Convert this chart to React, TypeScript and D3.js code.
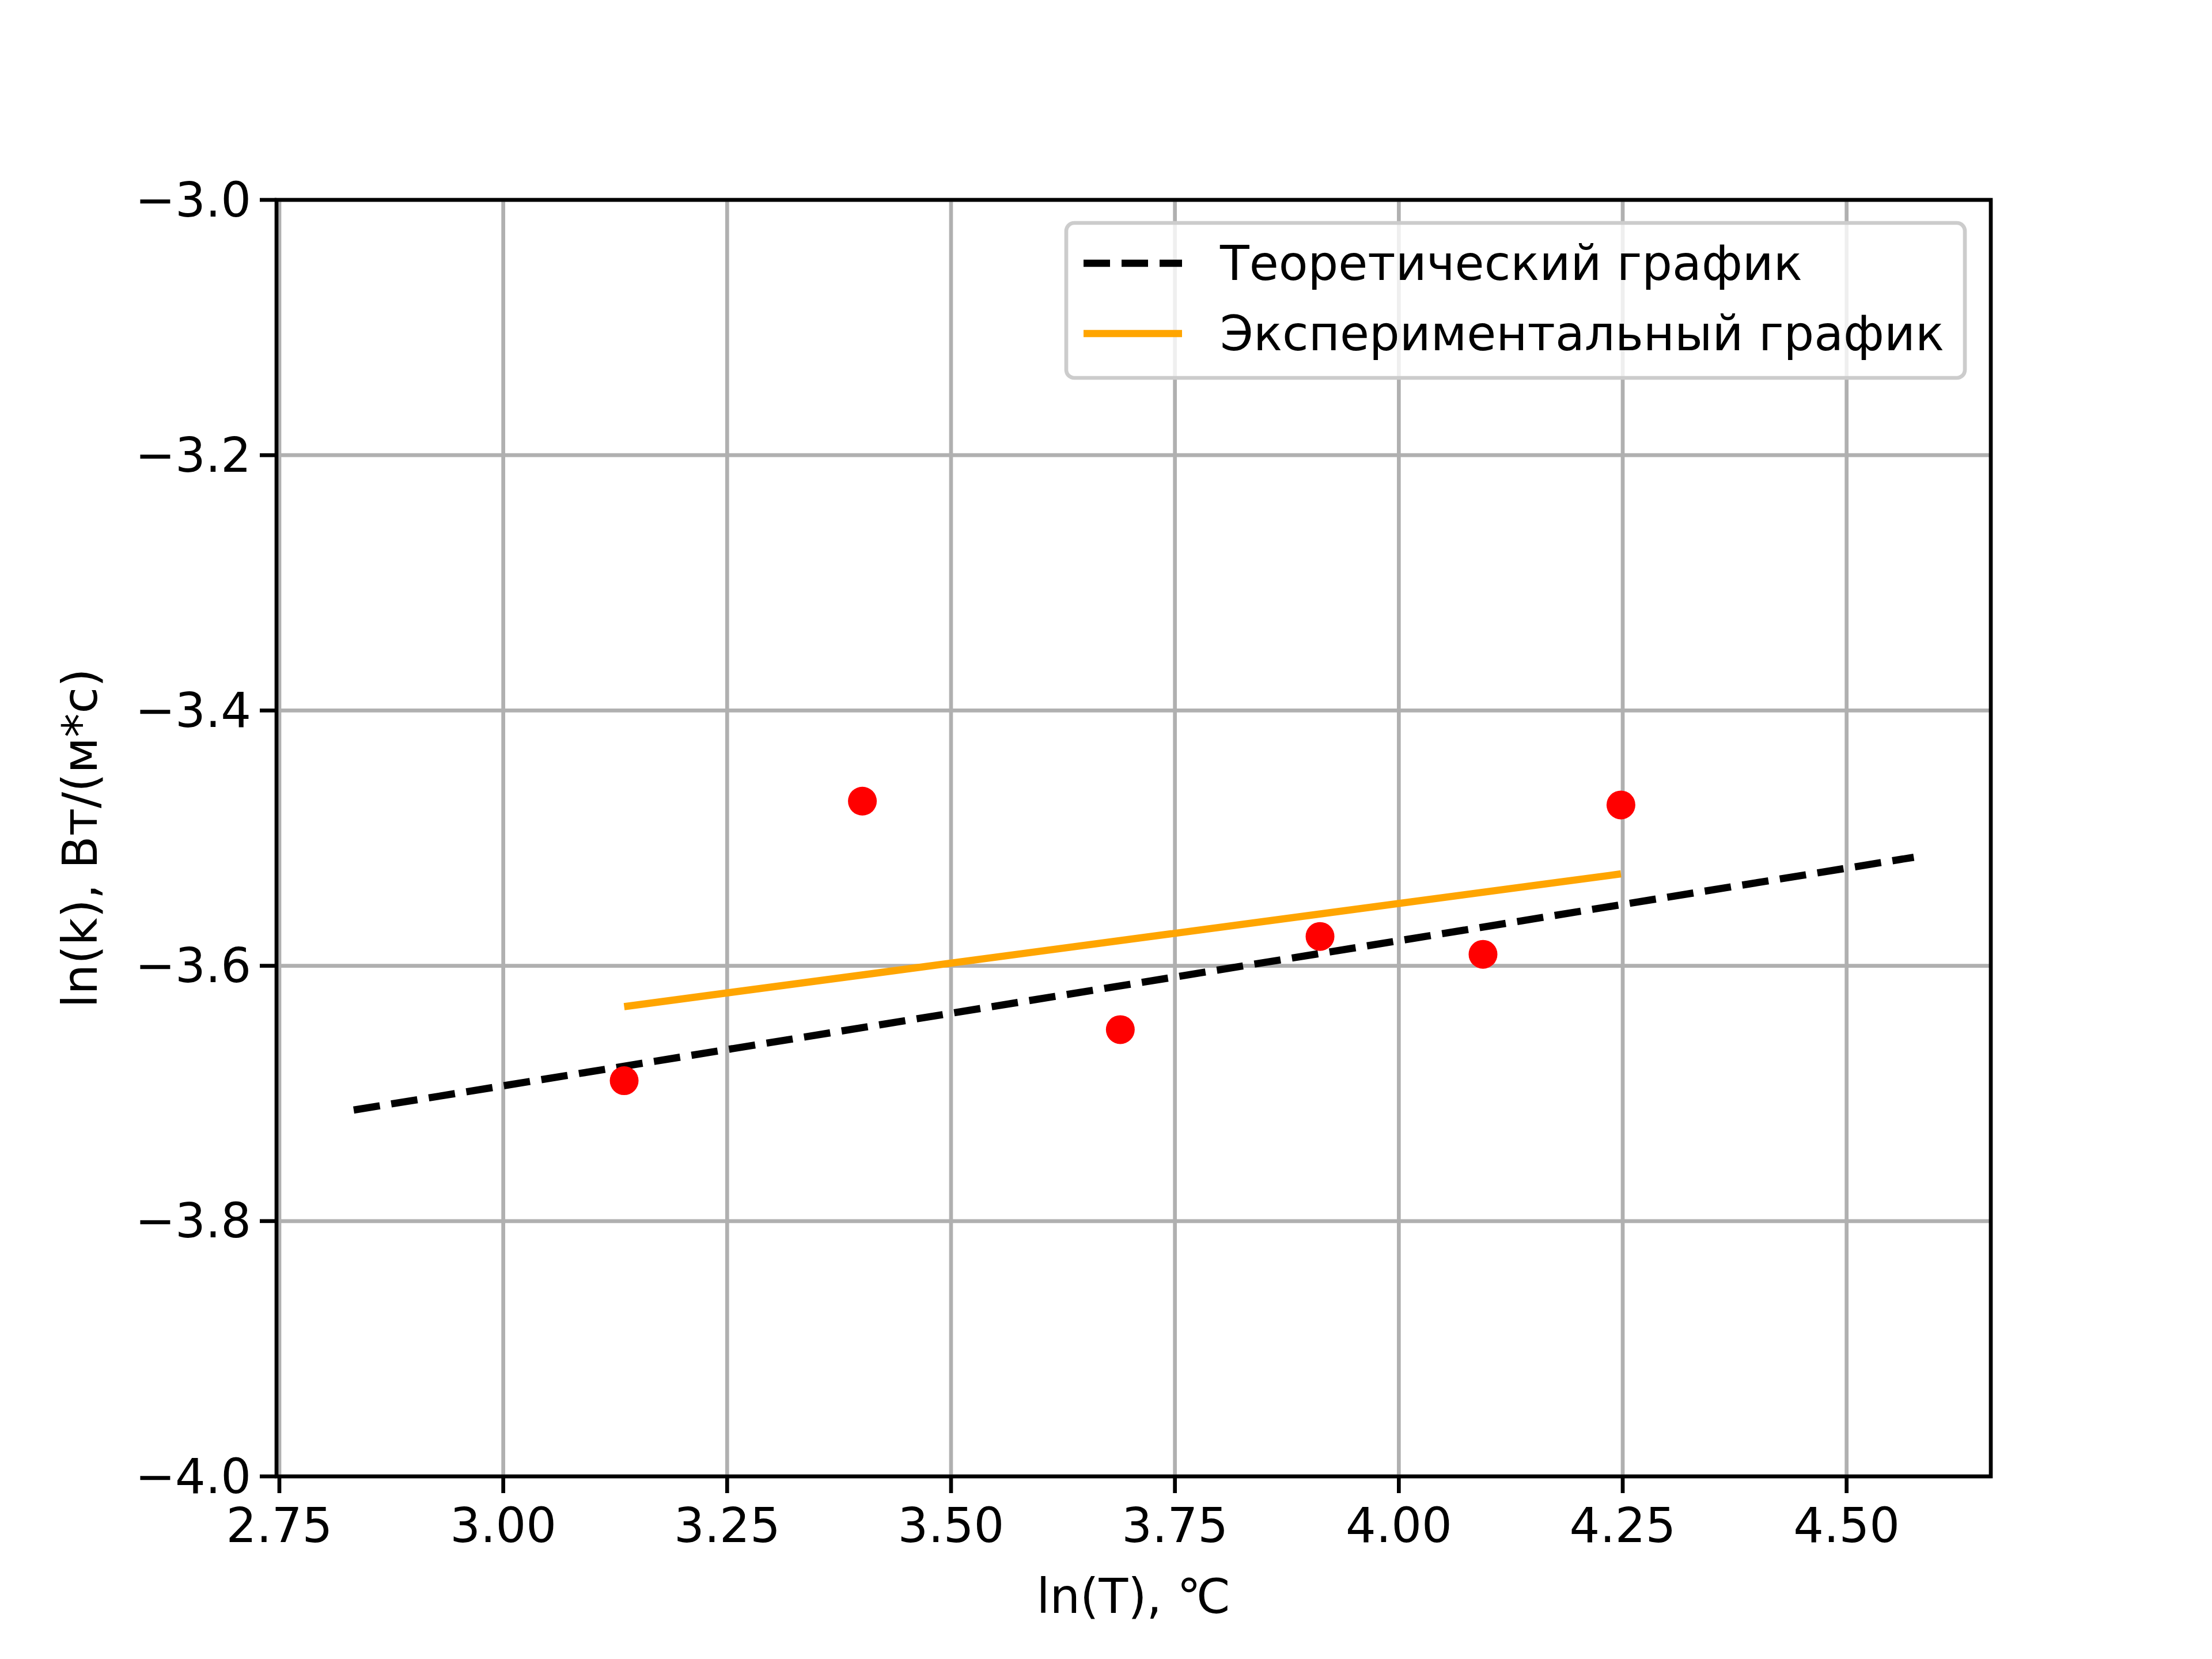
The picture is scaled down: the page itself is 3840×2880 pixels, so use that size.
import React from 'react';
import * as d3 from 'd3';

const pointsX = [3.135, 3.401, 3.689, 3.912, 4.094, 4.248];
const pointsY = [-3.69, -3.471, -3.65, -3.577, -3.591, -3.474];
const theoX = [2.833, 4.575];
const theoY = [-3.713, -3.515];
const expX = [3.135, 4.248];
const expY = [-3.632, -3.528];
const xTicks = [2.75, 3.0, 3.25, 3.5, 3.75, 4.0, 4.25, 4.5];
const yTicks = [-3.0, -3.2, -3.4, -3.6, -3.8, -4.0];

const W = 3840, H = 2880;
const L = 480, R = 3456, T = 347, B = 2563;
const font = 'DejaVu Sans, sans-serif';
const fs = 83;

const App: React.FC = () => {
  const x = d3.scaleLinear().domain([2.7468, 4.661]).range([L, R]);
  const y = d3.scaleLinear().domain([-4.0, -3.0]).range([B, T]);
  const line = d3.line<[number, number]>().x(d => x(d[0])).y(d => y(d[1]));
  const fmt = (v: number) => v.toFixed(2);
  const yfmt = (v: number) => v.toFixed(1).replace('-', '\u2212');
  return (
    <svg width={W} height={H} style={{ display: 'block', background: '#fff', margin: -8 }}>
      <g stroke="#b0b0b0" strokeWidth={6.7}>
        {xTicks.map(t => <line key={t} x1={x(t)} x2={x(t)} y1={T} y2={B} />)}
        {yTicks.map(t => <line key={t} x1={L} x2={R} y1={y(t)} y2={y(t)} />)}
      </g>
      <path d={line(theoX.map((v, i) => [v, theoY[i]]) as [number, number][]) || ''} fill="none" stroke="#000" strokeWidth={12.5} strokeDasharray="46,20" />
      <path d={line(expX.map((v, i) => [v, expY[i]]) as [number, number][]) || ''} fill="none" stroke="#ffa500" strokeWidth={12.5} />
      {pointsX.map((v, i) => <circle key={i} cx={x(v)} cy={y(pointsY[i])} r={25} fill="#ff0000" />)}
      <rect x={L} y={T} width={R - L} height={B - T} fill="none" stroke="#000" strokeWidth={6.7} />
      <g fontFamily={font} fontSize={fs} fill="#000">
        {xTicks.map(t => (
          <g key={t}>
            <line x1={x(t)} x2={x(t)} y1={B} y2={B + 29} stroke="#000" strokeWidth={6.7} />
            <text x={x(t)} y={B + 52} textAnchor="middle" dominantBaseline="hanging">{fmt(t)}</text>
          </g>
        ))}
        {yTicks.map(t => (
          <g key={t}>
            <line x1={L - 29} x2={L} y1={y(t)} y2={y(t)} stroke="#000" strokeWidth={6.7} />
            <text x={L - 44} y={y(t)} textAnchor="end" dominantBaseline="central">{yfmt(t)}</text>
          </g>
        ))}
        <text x={(L + R) / 2} y={2800} textAnchor="middle">ln(T), ℃</text>
        <text transform={`translate(168,${(T + B) / 2}) rotate(-90)`} textAnchor="middle">ln(k), Вт/(м*с)</text>
      </g>
      <g fontFamily={font} fontSize={fs}>
        <rect x={1851} y={387} width={1560} height={269} rx={14} fill="#fff" fillOpacity={0.8} stroke="#cccccc" strokeWidth={6.7} />
        <line x1={1881} x2={2052} y1={457} y2={457} stroke="#000" strokeWidth={12.5} strokeDasharray="46,20" />
        <text x={2118} y={457} dominantBaseline="central">Теоретический график</text>
        <line x1={1881} x2={2052} y1={579} y2={579} stroke="#ffa500" strokeWidth={12.5} />
        <text x={2118} y={579} dominantBaseline="central">Экспериментальный график</text>
      </g>
    </svg>
  );
};

export default App;
